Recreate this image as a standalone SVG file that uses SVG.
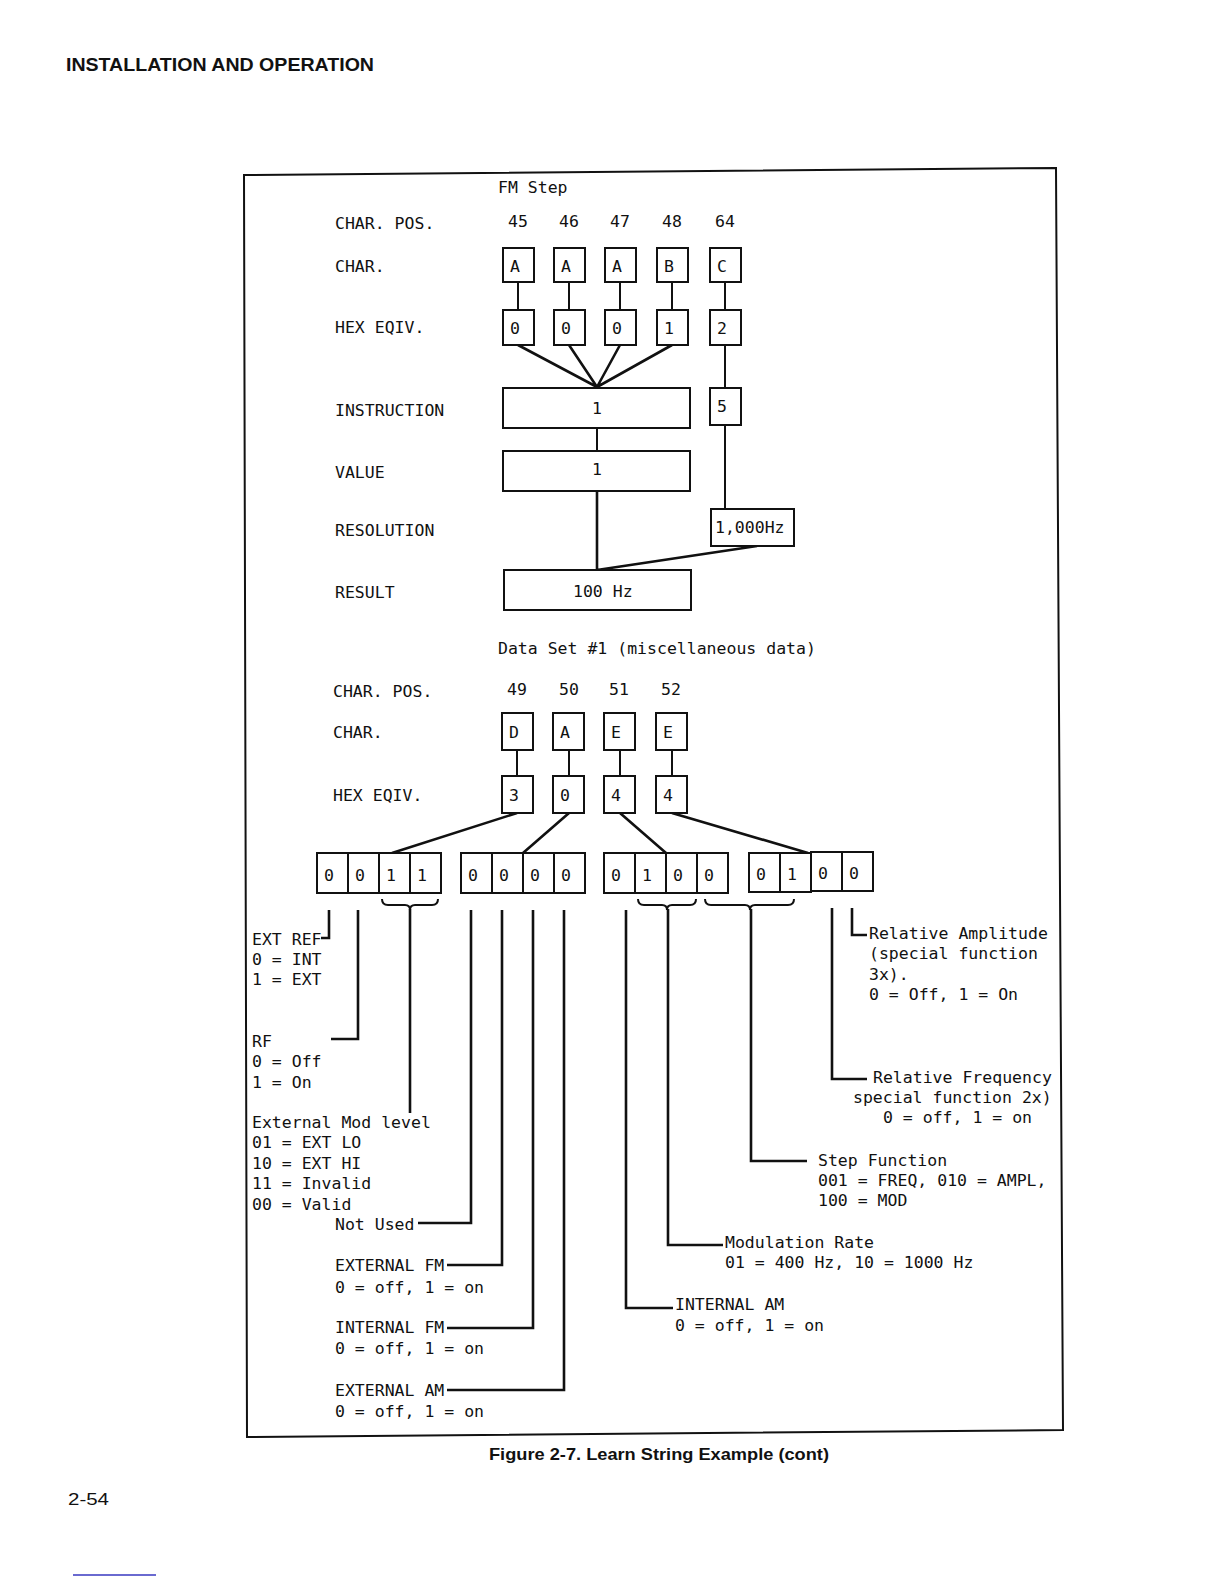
<svg xmlns="http://www.w3.org/2000/svg" width="1224" height="1584" viewBox="0 0 1224 1584">
<style>
.t{font-family:"DejaVu Sans Mono","Liberation Mono",monospace;font-size:16.5px;fill:#111}
.c{text-anchor:middle}
.b{fill:#fff;stroke:#111;stroke-width:2}
.l{fill:none;stroke:#111;stroke-width:2}
.k{fill:none;stroke:#111;stroke-width:2.6}
.h{font-family:"Liberation Sans",Arial,sans-serif;font-weight:bold;fill:#111}
</style>
<rect width="1224" height="1584" fill="#fff"/>
<text class="h" x="66" y="71" font-size="19" textLength="308" lengthAdjust="spacingAndGlyphs">INSTALLATION AND OPERATION</text>
<polygon points="244,175 1056,168 1063,1430 247,1437" fill="none" stroke="#111" stroke-width="2"/>

<g id="labels">
<text class="t" x="498" y="193">FM Step</text>
<text class="t" x="335" y="229">CHAR. POS.</text>
<text class="t" x="335" y="272">CHAR.</text>
<text class="t" x="335" y="333">HEX EQIV.</text>
<text class="t" x="335" y="416">INSTRUCTION</text>
<text class="t" x="335" y="478">VALUE</text>
<text class="t" x="335" y="536">RESOLUTION</text>
<text class="t" x="335" y="598">RESULT</text>
<text class="t c" x="518" y="227">45</text>
<text class="t c" x="569" y="227">46</text>
<text class="t c" x="620" y="227">47</text>
<text class="t c" x="672" y="227">48</text>
<text class="t c" x="725" y="227">64</text>
<text class="t" x="498" y="654">Data Set #1 (miscellaneous data)</text>
<text class="t" x="333" y="697">CHAR. POS.</text>
<text class="t" x="333" y="738">CHAR.</text>
<text class="t" x="333" y="801">HEX EQIV.</text>
<text class="t c" x="517" y="695">49</text>
<text class="t c" x="569" y="695">50</text>
<text class="t c" x="619" y="695">51</text>
<text class="t c" x="671" y="695">52</text>
</g>

<g id="connectors">
<path class="l" d="M518,282V310M569,282V310M620,282V310M672,282V310M725,282V310"/>
<path class="k" d="M518,345L597,387M569,345L597,387M620,345L597,387M672,345L597,387"/>
<path class="l" d="M725,345V388M725,425V509M597,428V451"/>
<path class="k" d="M597,491V570M757,546L597,570"/>
<path class="l" d="M517,750V776M569,750V776M620,750V776M672,750V776"/>
<path class="k" d="M517,813L392,853M569,813L523,853M620,813L666,853M672,813L808,853"/>
<path class="l" d="M382,899Q382,905 388,905L405,905Q410,905 410,910Q410,905 415,905L432,905Q438,905 438,899"/>
<path class="l" d="M638,899Q638,905 644,905L662,905Q667,905 667,910Q667,905 672,905L690,905Q696,905 696,899"/>
<path class="l" d="M705,899Q705,905 711,905L745,905Q750,905 750,910Q750,905 755,905L788,905Q794,905 794,899"/>
<path class="k" d="M329,910V938H321"/>
<path class="k" d="M358,910V1039H331"/>
<path class="k" d="M410,909V1113"/>
<path class="k" d="M471,910V1223H418"/>
<path class="k" d="M502,910V1265H447"/>
<path class="k" d="M533,910V1328H447"/>
<path class="k" d="M564,910V1390H447"/>
<path class="k" d="M626,910V1308H673"/>
<path class="k" d="M668,909V1245H723"/>
<path class="k" d="M751,909V1161H807"/>
<path class="k" d="M832,908V1079H867"/>
<path class="k" d="M852,908V935H867"/>
</g>

<g id="fm-char">
<rect class="b" x="503" y="248" width="31" height="34"/><text class="t" x="510" y="272">A</text>
<rect class="b" x="554" y="248" width="31" height="34"/><text class="t" x="561" y="272">A</text>
<rect class="b" x="605" y="248" width="31" height="34"/><text class="t" x="612" y="272">A</text>
<rect class="b" x="657" y="248" width="31" height="34"/><text class="t" x="664" y="272">B</text>
<rect class="b" x="710" y="248" width="31" height="34"/><text class="t" x="717" y="272">C</text>
</g>
<g id="fm-hex">
<rect class="b" x="503" y="310" width="31" height="35"/><text class="t" x="510" y="334">0</text>
<rect class="b" x="554" y="310" width="31" height="35"/><text class="t" x="561" y="334">0</text>
<rect class="b" x="605" y="310" width="31" height="35"/><text class="t" x="612" y="334">0</text>
<rect class="b" x="657" y="310" width="31" height="35"/><text class="t" x="664" y="334">1</text>
<rect class="b" x="710" y="310" width="31" height="35"/><text class="t" x="717" y="334">2</text>
</g>
<g id="instruction"><rect class="b" x="503" y="388" width="187" height="40"/><text class="t" x="592" y="414">1</text></g>
<g id="five"><rect class="b" x="710" y="388" width="31" height="37"/><text class="t" x="717" y="412">5</text></g>
<g id="value"><rect class="b" x="503" y="451" width="187" height="40"/><text class="t" x="592" y="475">1</text></g>
<g id="resolution"><rect class="b" x="711" y="509" width="83" height="37"/><text class="t" x="715" y="533">1,000Hz</text></g>
<g id="result"><rect class="b" x="504" y="570" width="187" height="40"/><text class="t" x="573" y="597">100 Hz</text></g>

<g id="ds-char">
<rect class="b" x="502" y="713" width="31" height="37"/><text class="t" x="509" y="738">D</text>
<rect class="b" x="553" y="713" width="31" height="37"/><text class="t" x="560" y="738">A</text>
<rect class="b" x="604" y="713" width="31" height="37"/><text class="t" x="611" y="738">E</text>
<rect class="b" x="656" y="713" width="31" height="37"/><text class="t" x="663" y="738">E</text>
</g>
<g id="ds-hex">
<rect class="b" x="502" y="776" width="31" height="37"/><text class="t" x="509" y="801">3</text>
<rect class="b" x="553" y="776" width="31" height="37"/><text class="t" x="560" y="801">0</text>
<rect class="b" x="604" y="776" width="31" height="37"/><text class="t" x="611" y="801">4</text>
<rect class="b" x="656" y="776" width="31" height="37"/><text class="t" x="663" y="801">4</text>
</g>

<g id="bits-1">
<rect class="b" x="317" y="853" width="31" height="40"/><text class="t" x="324" y="881">0</text>
<rect class="b" x="348" y="853" width="31" height="40"/><text class="t" x="355" y="881">0</text>
<rect class="b" x="379" y="853" width="31" height="40"/><text class="t" x="386" y="881">1</text>
<rect class="b" x="410" y="853" width="31" height="40"/><text class="t" x="417" y="881">1</text>
</g>
<g id="bits-2">
<rect class="b" x="461" y="853" width="31" height="40"/><text class="t" x="468" y="881">0</text>
<rect class="b" x="492" y="853" width="31" height="40"/><text class="t" x="499" y="881">0</text>
<rect class="b" x="523" y="853" width="31" height="40"/><text class="t" x="530" y="881">0</text>
<rect class="b" x="554" y="853" width="31" height="40"/><text class="t" x="561" y="881">0</text>
</g>
<g id="bits-3">
<rect class="b" x="604" y="853" width="31" height="40"/><text class="t" x="611" y="881">0</text>
<rect class="b" x="635" y="853" width="31" height="40"/><text class="t" x="642" y="881">1</text>
<rect class="b" x="666" y="853" width="31" height="40"/><text class="t" x="673" y="881">0</text>
<rect class="b" x="697" y="853" width="31" height="40"/><text class="t" x="704" y="881">0</text>
</g>
<g id="bits-4">
<rect class="b" x="749" y="853" width="31" height="39"/><text class="t" x="756" y="880">0</text>
<rect class="b" x="780" y="853" width="31" height="39"/><text class="t" x="787" y="880">1</text>
<rect class="b" x="811" y="852" width="31" height="39"/><text class="t" x="818" y="879">0</text>
<rect class="b" x="842" y="852" width="31" height="39"/><text class="t" x="849" y="879">0</text>
</g>

<g id="ext-ref"><text class="t" x="252" y="945">EXT REF</text><text class="t" x="252" y="965">0 = INT</text><text class="t" x="252" y="985">1 = EXT</text></g>
<g id="rf"><text class="t" x="252" y="1047">RF</text><text class="t" x="252" y="1067">0 = Off</text><text class="t" x="252" y="1088">1 = On</text></g>
<g id="ext-mod"><text class="t" x="252" y="1128">External Mod level</text><text class="t" x="252" y="1148">01 = EXT LO</text><text class="t" x="252" y="1169">10 = EXT HI</text><text class="t" x="252" y="1189">11 = Invalid</text><text class="t" x="252" y="1210">00 = Valid</text></g>
<g id="not-used"><text class="t" x="335" y="1230">Not Used</text></g>
<g id="external-fm"><text class="t" x="335" y="1271">EXTERNAL FM</text><text class="t" x="335" y="1293">0 = off, 1 = on</text></g>
<g id="internal-fm"><text class="t" x="335" y="1333">INTERNAL FM</text><text class="t" x="335" y="1354">0 = off, 1 = on</text></g>
<g id="external-am"><text class="t" x="335" y="1396">EXTERNAL AM</text><text class="t" x="335" y="1417">0 = off, 1 = on</text></g>
<g id="internal-am"><text class="t" x="675" y="1310">INTERNAL AM</text><text class="t" x="675" y="1331">0 = off, 1 = on</text></g>
<g id="mod-rate"><text class="t" x="725" y="1248">Modulation Rate</text><text class="t" x="725" y="1268">01 = 400 Hz, 10 = 1000 Hz</text></g>
<g id="step-fn"><text class="t" x="818" y="1166">Step Function</text><text class="t" x="818" y="1186">001 = FREQ, 010 = AMPL,</text><text class="t" x="818" y="1206">100 = MOD</text></g>
<g id="rel-freq"><text class="t" x="873" y="1083">Relative Frequency</text><text class="t" x="853" y="1103">special function 2x)</text><text class="t" x="883" y="1123">0 = off, 1 = on</text></g>
<g id="rel-amp"><text class="t" x="869" y="939">Relative Amplitude</text><text class="t" x="869" y="959">(special function</text><text class="t" x="869" y="980">3x).</text><text class="t" x="869" y="1000">0 = Off, 1 = On</text></g>

<text class="h" x="489" y="1460" font-size="16.5" textLength="340" lengthAdjust="spacingAndGlyphs">Figure 2-7. Learn String Example (cont)</text>
<text x="68" y="1505" font-family="Liberation Sans,Arial,sans-serif" font-size="17" fill="#111" textLength="41" lengthAdjust="spacingAndGlyphs">2-54</text>
<line x1="73" y1="1575" x2="156" y2="1575" stroke="#3838c0" stroke-width="1.5"/>
</svg>
